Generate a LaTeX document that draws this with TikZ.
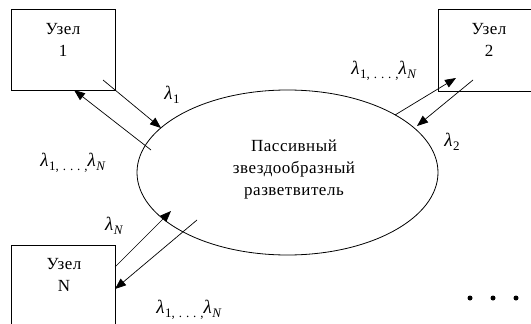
\documentclass[tikz,border=0pt]{standalone}
\usepackage{fontspec}
\setmainfont[LetterSpace=3]{Liberation Serif}
\newfontfamily\subf[LetterSpace=30]{Liberation Serif}
\usetikzlibrary{shapes.geometric,arrows.meta}
\newcommand{\subsc}[1]{\raisebox{-3.5pt}{\fontsize{13}{13}\subf #1}}
\newcommand{\lam}[1]{\textit{λ}\subsc{#1}}
\newcommand{\lamlist}{\lam{1}\subsc{,...,}\lam{\textit{N}}}
\begin{document}
\begin{tikzpicture}[x=1pt,y=-1pt,
  box/.style={draw,line width=0.8pt,inner sep=0pt},
  btext/.style={align=center,font=\fontsize{17}{22}\selectfont,inner sep=0pt},
  lab/.style={font=\fontsize{19}{20}\selectfont,inner sep=0pt},
  tip/.style={line width=0.7pt,-{Triangle[length=11pt,width=8.5pt]}},
  dot/.style={circle,fill,inner sep=0pt,minimum size=5pt}]
\clip (0,0) rectangle (531,324);
\fill[white] (0,0) rectangle (531,324);
% boxes
\node[box,minimum width=104pt,minimum height=81pt] (n1) at (63,49.5) {};
\node[box,minimum width=102pt,minimum height=82pt] (n2) at (489,50) {};
\node[box,minimum width=104pt,minimum height=100pt] (nN) at (63,295) {};
\node[btext] (t1) at (63,40.4) {Узел\\1};
\node[btext] (t2) at (489,40.4) {Узел\\2};
\node[btext] (tN) at (64,275.4) {Узел\\N};
% star coupler
\node[ellipse,draw,line width=0.8pt,minimum width=301pt,minimum height=165pt,inner sep=0pt] (st) at (287.5,172.5) {};
\node[btext] (stt) at (294,169.3) {Пассивный\\звездообразный\\разветвитель};
% coordinates
\coordinate (a1s) at (103,80);
\coordinate (a1e) at (161,128);
\coordinate (b1s) at (151,150);
\coordinate (b1e) at (74,90);
\coordinate (a2s) at (395,115);
\coordinate (a2e) at (456,78);
\coordinate (b2s) at (473,80);
\coordinate (b2e) at (417,126);
\coordinate (aNs) at (115,267);
\coordinate (aNe) at (171,211);
\coordinate (bNs) at (197,220);
\coordinate (bNe) at (115,289);
% connectors
\draw[tip] (a1s) -- (a1e);
\draw[tip] (b1s) -- (b1e);
\draw[tip] (a2s) -- (a2e);
\draw[tip] (b2s) -- (b2e);
\draw[tip] (aNs) -- (aNe);
\draw[tip] (bNs) -- (bNe);
% labels
\node[lab] (l1) at (172,95) {\lam{1}};
\node[lab] (l1N) at (75,163) {\lamlist};
\node[lab] (l2N) at (386,71) {\lamlist};
\node[lab] (l2) at (452,142) {\lam{2}};
\node[lab] (lN) at (116,226) {\lam{\textit{N}}};
\node[lab] (lNN) at (191,310) {\lamlist};
% dots
\node[dot] (d1) at (470,298) {};
\node[dot] (d2) at (493,298) {};
\node[dot] (d3) at (516,298) {};
\end{tikzpicture}
\end{document}
